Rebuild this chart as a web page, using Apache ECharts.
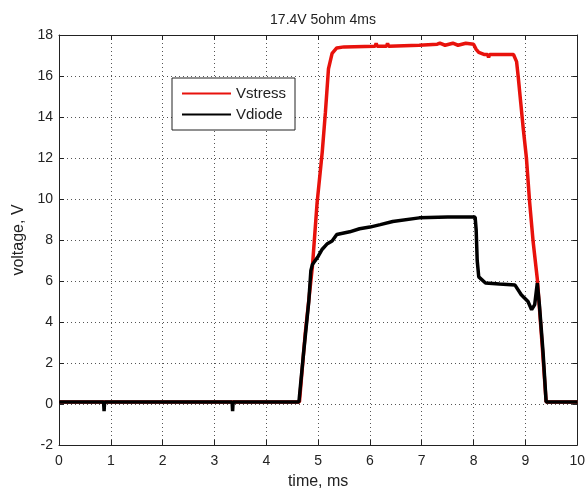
<!DOCTYPE html>
<html>
<head>
<meta charset="utf-8">
<script src="https://cdn.jsdelivr.net/npm/echarts@6/dist/echarts.min.js"></script>
<style>
html,body{margin:0;padding:0;background:#fff;}
#chart{width:588px;height:495px;}
</style>
</head>
<body>
<div id="chart"></div>
<script>
const titleText = '17.4V 5ohm 4ms';
const seriesNames = ['Vstress', 'Vdiode'];
const xTicks = [0, 1, 2, 3, 4, 5, 6, 7, 8, 9, 10];
const yTicks = [-2, 0, 2, 4, 6, 8, 10, 12, 14, 16, 18];

const tStress = [0, 4.64, 4.75, 4.89, 4.98, 5.08, 5.14, 5.20, 5.27, 5.36, 5.50, 6.10, 6.12, 6.14, 6.32, 6.34, 6.36, 6.95, 7.30, 7.35, 7.45, 7.60, 7.70, 7.85, 8.00, 8.05, 8.10, 8.20, 8.27, 8.29, 8.31, 8.77, 8.83, 8.86, 8.91, 8.96, 9.02, 9.08, 9.15, 9.23, 9.32, 9.40, 10];
const vStress = [0.1, 0.1, 3.4, 6.7, 9.8, 12.3, 14.2, 16.35, 17.1, 17.37, 17.42, 17.45, 17.6, 17.45, 17.45, 17.6, 17.45, 17.5, 17.55, 17.6, 17.5, 17.6, 17.5, 17.6, 17.55, 17.3, 17.15, 17.05, 17.05, 16.9, 17.05, 17.05, 16.7, 16.0, 14.7, 13.4, 12.0, 9.9, 7.9, 6.1, 3.0, 0.1, 0.1];

const tDiode = [0, 0.86, 0.87, 0.88, 3.34, 3.35, 3.36, 4.63, 4.72, 4.82, 4.86, 4.89, 5.00, 5.08, 5.17, 5.27, 5.36, 5.61, 5.80, 6.00, 6.20, 6.44, 6.95, 7.50, 8.03, 8.05, 8.07, 8.10, 8.23, 8.50, 8.80, 8.92, 9.05, 9.12, 9.18, 9.23, 9.27, 9.34, 9.40, 10];
const vDiode = [0.1, 0.1, -0.35, 0.1, 0.1, -0.35, 0.1, 0.1, 2.5, 5.0, 6.5, 6.8, 7.2, 7.55, 7.8, 7.95, 8.27, 8.4, 8.55, 8.63, 8.75, 8.9, 9.08, 9.12, 9.12, 8.5, 7.0, 6.2, 5.9, 5.85, 5.8, 5.33, 5.0, 4.6, 4.85, 5.9, 4.85, 2.55, 0.1, 0.1];

const FONT = 'Liberation Sans, Arial, sans-serif';
const TXT = '#222';

function pairs(t, v) { return t.map((x, i) => [x, v[i]]); }
function gridLine() { return {show: true, lineStyle: {color: '#555', width: 1, type: [1, 3]}}; }
function axLine() { return {show: true, onZero: false, lineStyle: {color: '#222', width: 1}}; }
function tick() { return {show: true, inside: true, length: 5, lineStyle: {color: '#222', width: 1}}; }

const chart = echarts.init(document.getElementById('chart'), null, {renderer: 'canvas'});

chart.setOption({
  animation: false,
  backgroundColor: '#fff',
  title: {
    text: titleText,
    left: 318, top: 8, textAlign: 'center',
    textStyle: {fontFamily: FONT, fontSize: 14, fontWeight: 'normal', color: TXT}
  },
  legend: {
    data: seriesNames,
    icon: 'rect',
    orient: 'vertical',
    left: 172, top: 78,
    padding: [7, 9, 7, 10],
    itemGap: 4,
    itemWidth: 49, itemHeight: 2,
    borderColor: '#222', borderWidth: 1,
    backgroundColor: '#fff',
    textStyle: {fontFamily: FONT, fontSize: 15, color: TXT, lineHeight: 17}
  },
  grid: {left: 59, right: 5, top: 35, bottom: 50, containLabel: false},
  xAxis: [{
    type: 'value', min: xTicks[0], max: xTicks[xTicks.length - 1], interval: 1,
    position: 'bottom',
    name: 'time, ms', nameLocation: 'middle', nameGap: 29,
    nameTextStyle: {fontFamily: FONT, fontSize: 16, color: TXT},
    axisLine: axLine(), axisTick: tick(),
    axisLabel: {fontFamily: FONT, fontSize: 14, color: TXT, margin: 9},
    splitLine: gridLine()
  }, {
    type: 'value', min: xTicks[0], max: xTicks[xTicks.length - 1], interval: 1,
    position: 'top',
    axisLine: axLine(), axisTick: tick(),
    axisLabel: {show: false}, splitLine: {show: false}
  }],
  yAxis: [{
    type: 'value', min: yTicks[0], max: yTicks[yTicks.length - 1], interval: 2,
    position: 'left',
    name: 'voltage, V', nameLocation: 'middle', nameGap: 25,
    nameTextStyle: {fontFamily: FONT, fontSize: 16, color: TXT},
    axisLine: axLine(), axisTick: tick(),
    axisLabel: {fontFamily: FONT, fontSize: 14, color: TXT, margin: 6},
    splitLine: gridLine()
  }, {
    type: 'value', min: yTicks[0], max: yTicks[yTicks.length - 1], interval: 2,
    position: 'right',
    axisLine: axLine(), axisTick: tick(),
    axisLabel: {show: false}, splitLine: {show: false}
  }],
  series: [{
    name: seriesNames[0], type: 'line', symbol: 'none',
    xAxisIndex: 0, yAxisIndex: 0,
    color: '#e8120c',
    lineStyle: {color: '#e8120c', width: 3.5},
    data: pairs(tStress, vStress)
  }, {
    name: seriesNames[1], type: 'line', symbol: 'none',
    xAxisIndex: 0, yAxisIndex: 0,
    color: '#000',
    lineStyle: {color: '#000', width: 3.5},
    data: pairs(tDiode, vDiode)
  }]
});
</script>
</body>
</html>
